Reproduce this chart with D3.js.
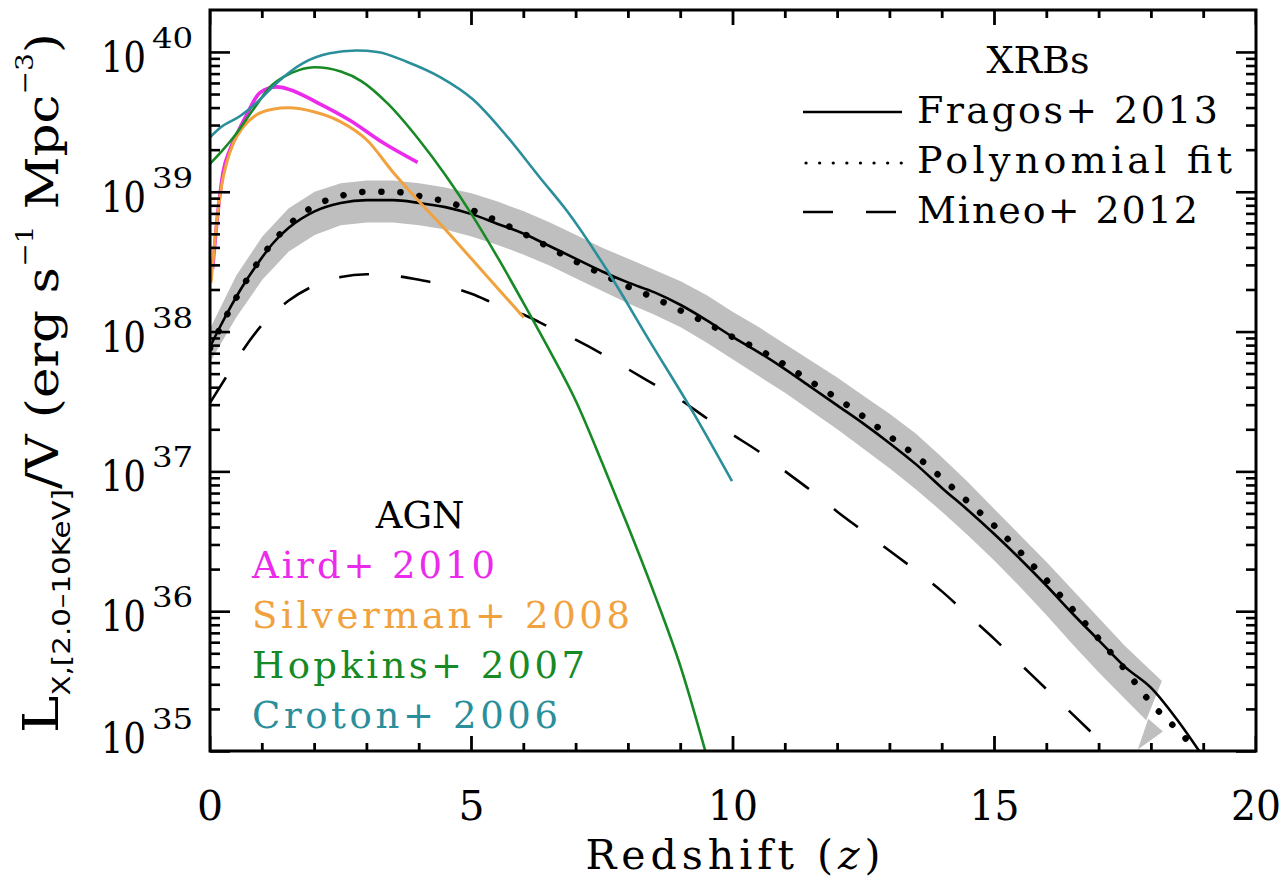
<!DOCTYPE html>
<html><head><meta charset="utf-8">
<script src="https://cdn.jsdelivr.net/npm/d3@7"></script>
<style>body{margin:0;background:#fff} svg{display:block}</style>
</head><body>
<svg id="c" width="1287" height="890"></svg>
<script>
// ---------- DATA (values are log10 of L_X/V) ----------
const xTicks = [0, 5, 10, 15, 20];
const xMinor = [0,1,2,3,4,5,6,7,8,9,10,11,12,13,14,15,16,17,18,19,20];
const yDecades = [35, 36, 37, 38, 39, 40];

const fragosZ   = [0,0.2,0.4,0.6,0.9,1.2,1.5,2,2.5,3,3.5,4,4.5,5,5.5,6,6.5,7,7.5,8,8.5,9,9.5,10,10.5,11,11.5,12,12.5,13,13.5,14,14.5,15,15.5,16,16.5,17,17.5,18,18.5,18.95];
const fragosLog = [37.89,38.04,38.18,38.31,38.48,38.63,38.74,38.86,38.92,38.94,38.94,38.92,38.89,38.84,38.77,38.70,38.61,38.52,38.43,38.35,38.28,38.19,38.08,37.96,37.85,37.73,37.60,37.47,37.34,37.20,37.05,36.88,36.72,36.55,36.37,36.18,35.98,35.79,35.60,35.45,35.22,34.98];

const polyZ   = [0,0.5,1,1.5,2,2.5,3,3.5,4,4.5,5,5.5,6,6.5,7,7.5,8,8.5,9,9.5,10,10.5,11,11.5,12,12.5,13,13.5,14,14.5,15,15.5,16,16.5,17,17.5,18,18.5,18.9];
const polyLog = [37.88,38.24,38.54,38.76,38.90,38.97,39.00,39.00,38.97,38.93,38.87,38.79,38.70,38.60,38.50,38.41,38.32,38.24,38.15,38.06,37.96,37.87,37.76,37.64,37.52,37.39,37.25,37.11,36.95,36.78,36.61,36.42,36.22,36.01,35.80,35.58,35.34,35.15,34.99];

const mineoZ   = [0,0.3,0.6,1,1.5,2,2.5,3,3.5,4,4.5,5,5.5,6,6.5,7,7.5,8,8.5,9,9.5,10,10.5,11,11.5,12,12.5,13,13.5,14,14.5,15,15.5,16,16.5,17,17.25];
const mineoLog = [37.49,37.67,37.85,38.05,38.22,38.33,38.39,38.41,38.40,38.37,38.33,38.27,38.19,38.12,38.03,37.94,37.84,37.73,37.62,37.51,37.38,37.26,37.14,37.00,36.86,36.71,36.57,36.43,36.29,36.14,35.97,35.80,35.62,35.44,35.26,35.08,34.99];

const bandUpZ   = [0,0.5,1,1.5,2,2.5,3,3.5,4,4.5,5,5.5,6,6.5,7,7.5,8,8.5,9,9.5,10,10.5,11,11.5,12,12.5,13,13.5,14,14.5,15,15.5,16,16.5,17,17.5,18.2];
const bandUpLog = [38.02,38.40,38.68,38.88,39.00,39.06,39.08,39.08,39.06,39.03,38.99,38.93,38.86,38.78,38.69,38.60,38.52,38.44,38.36,38.26,38.14,38.03,37.91,37.79,37.67,37.54,37.41,37.27,37.10,36.92,36.73,36.54,36.35,36.15,35.95,35.75,35.50];
const bandLoZ   = [0,0.5,1,1.5,2,2.5,3,3.5,4,4.5,5,5.5,6,6.5,7,7.5,8,8.5,9,9.5,10,10.5,11,11.5,12,12.5,13,13.5,14,14.5,15,15.5,16,16.5,17,17.5,17.9];
const bandLoLog = [37.78,38.10,38.37,38.57,38.69,38.76,38.78,38.78,38.76,38.73,38.68,38.62,38.55,38.47,38.38,38.29,38.20,38.12,38.03,37.92,37.80,37.68,37.56,37.43,37.30,37.16,37.02,36.87,36.71,36.54,36.36,36.17,35.97,35.76,35.56,35.37,35.22];
const bandTailZ   = [17.74, 17.94, 18.22];
const bandTailLog = [35.01, 35.23, 35.14];

const airdZ   = [0.05,0.15,0.25,0.38,0.5,0.7,0.96,1.28,1.53,2.04,2.68,3.31,3.97];
const airdLog = [38.45,38.85,39.14,39.30,39.40,39.55,39.71,39.75,39.73,39.64,39.51,39.35,39.21];

const silvZ   = [0.02,0.08,0.15,0.22,0.32,0.45,0.63,0.89,1.2,1.5,2.0,2.5,3.0,3.5,4.0,4.5,5.0,5.5,6.0];
const silvLog = [38.35,38.60,38.85,39.04,39.21,39.35,39.46,39.55,39.59,39.60,39.57,39.50,39.37,39.14,38.93,38.73,38.52,38.31,38.10];

const hopZ   = [0,0.2,0.45,0.83,1.15,1.4,1.7,2.0,2.5,2.9,3.4,4.0,4.5,5.0,5.5,6.0,6.5,7.0,7.5,8.0,8.5,9.0,9.47];
const hopLog = [39.20,39.28,39.39,39.59,39.75,39.82,39.87,39.89,39.86,39.79,39.63,39.37,39.12,38.84,38.53,38.20,37.86,37.50,37.06,36.60,36.12,35.60,35.00];

const croZ   = [0,0.2,0.57,0.9,1.28,1.78,2.29,2.8,3.2,3.76,4.4,5.03,5.67,6.31,6.83,7.59,8.41,9.24,9.98];
const croLog = [39.39,39.46,39.54,39.64,39.78,39.92,39.99,40.01,40.00,39.93,39.82,39.66,39.40,39.10,38.86,38.44,37.93,37.42,36.93];

const agnNames  = ["Aird+ 2010", "Silverman+ 2008", "Hopkins+ 2007", "Croton+ 2006"];
const xrbNames  = ["Fragos+ 2013", "Polynomial fit", "Mineo+ 2012"];

// ---------- LAYOUT ----------
const L = 210, R = 1256, T = 10, B = 751;
const cMag = "#ec2aec", cOrg = "#f1a23e", cGrn = "#178a26", cTeal = "#2b8e9b";

const svg = d3.select("#c");
const xs = d3.scaleLinear().domain([0, 20]).range([L, R]);
const ys = d3.scaleLog().domain([1e35, Math.pow(10, 40.3)]).range([B, T]);

const zip = (zs, ls) => zs.map((z, i) => [z, ls[i]]);
const line = d3.line().x(d => xs(d[0])).y(d => ys(Math.pow(10, d[1]))).curve(d3.curveMonotoneX);
const poly = d3.line().x(d => xs(d[0])).y(d => ys(Math.pow(10, d[1]))).curve(d3.curveLinearClosed);

svg.append("defs").append("clipPath").attr("id", "clip")
  .append("rect").attr("x", L).attr("y", T).attr("width", R - L).attr("height", B - T);

const g = svg.append("g").attr("clip-path", "url(#clip)");

const bandPts = zip(bandUpZ, bandUpLog).concat(zip(bandLoZ, bandLoLog).reverse());
g.append("path").attr("d", poly(bandPts)).attr("fill", "#bfbfbf").attr("stroke", "none");
g.append("path").attr("d", poly(zip(bandTailZ, bandTailLog))).attr("fill", "#bfbfbf").attr("stroke", "none");

g.append("path").attr("d", line(zip(mineoZ, mineoLog))).attr("fill", "none")
  .attr("stroke", "#000").attr("stroke-width", 2.6).attr("stroke-dasharray", "30 32");
g.append("path").attr("d", line(zip(fragosZ, fragosLog))).attr("fill", "none")
  .attr("stroke", "#000").attr("stroke-width", 2.6);
g.append("path").attr("d", line(zip(polyZ, polyLog))).attr("fill", "none")
  .attr("stroke", "#000").attr("stroke-width", 6.5).attr("stroke-linecap", "round")
  .attr("stroke-dasharray", "0.1 19");

g.append("path").attr("d", line(zip(airdZ, airdLog))).attr("fill", "none").attr("stroke", cMag).attr("stroke-width", 3.6);
g.append("path").attr("d", line(zip(silvZ, silvLog))).attr("fill", "none").attr("stroke", cOrg).attr("stroke-width", 3);
g.append("path").attr("d", line(zip(hopZ, hopLog))).attr("fill", "none").attr("stroke", cGrn).attr("stroke-width", 2.6);
g.append("path").attr("d", line(zip(croZ, croLog))).attr("fill", "none").attr("stroke", cTeal).attr("stroke-width", 2.6);

// ---------- AXES (inward ticks) ----------
const yMinor = [];
yDecades.forEach(e => { for (let m = 2; m <= 9; m++) { const v = m * Math.pow(10, e); if (v < Math.pow(10, 40.3)) yMinor.push(v); } });
const yMajor = yDecades.map(e => Math.pow(10, e));

function drawAxis(axis, tx, ty) {
  const a = svg.append("g").attr("transform", `translate(${tx},${ty})`).call(axis);
  a.select(".domain").remove();
  a.selectAll("text").remove();
  a.selectAll("line").attr("stroke", "#000").attr("stroke-width", 2.6);
}
drawAxis(d3.axisLeft(ys).tickValues(yMinor).tickSize(-10).tickFormat(""), L, 0);
drawAxis(d3.axisLeft(ys).tickValues(yMajor).tickSize(-20).tickFormat(""), L, 0);
drawAxis(d3.axisRight(ys).tickValues(yMinor).tickSize(-10).tickFormat(""), R, 0);
drawAxis(d3.axisRight(ys).tickValues(yMajor).tickSize(-20).tickFormat(""), R, 0);

// x ticks (bottom pointing up, top pointing down)
xMinor.forEach(v => {
  const len = xTicks.indexOf(v) >= 0 ? 15 : 8;
  const px = xs(v);
  const w = 1.4;
  g.append("path").attr("fill", "#000")
    .attr("d", `M${px - w},${B}L${px + w},${B}L${px + w},${B - len}L${px - w},${B - len}Z`);
  g.append("path").attr("fill", "#000")
    .attr("d", `M${px - w},${T}L${px + w},${T}L${px + w},${T + len}L${px - w},${T + len}Z`);
});

svg.append("rect").attr("x", L).attr("y", T).attr("width", R - L).attr("height", B - T)
  .attr("fill", "none").attr("stroke", "#000").attr("stroke-width", 3);

// x tick labels
svg.selectAll(".xl").data(xTicks).enter().append("text")
  .attr("x", d => xs(d)).attr("y", 820).attr("text-anchor", "middle")
  .attr("font-family", "DejaVu Serif").attr("font-size", 41).attr("fill", "#000")
  .each(function (d) { if (String(d).length > 1) d3.select(this).attr("textLength", 50).attr("lengthAdjust", "spacingAndGlyphs"); })
  .text(d => d);

// y tick labels
yDecades.forEach(e => {
  const ty = ys(Math.pow(10, e));
  const base = Math.min(ty + 20, 753);
  svg.append("text").attr("transform", `translate(101,${base}) scale(0.82,1)`)
    .attr("font-family", "DejaVu Serif").attr("font-size", 43).attr("fill", "#000").text("10");
  svg.append("text").attr("transform", `translate(152,${base - 24}) scale(1.2,1)`)
    .attr("font-family", "DejaVu Serif").attr("font-size", 27).attr("fill", "#000").text(String(e));
});

// x label
const xl = svg.append("text").attr("x", 733).attr("y", 869).attr("text-anchor", "middle")
  .attr("font-family", "DejaVu Serif").attr("font-size", 41).attr("fill", "#000")
  .attr("textLength", 295).attr("lengthAdjust", "spacing");
xl.append("tspan").text("Redshift (");
xl.append("tspan").attr("font-style", "italic").text("z");
xl.append("tspan").text(")");

// y label
const yl = svg.append("text").attr("text-anchor", "middle")
  .attr("font-family", "DejaVu Serif").attr("font-size", 44).attr("fill", "#000");
yl.append("tspan").attr("font-size", 48).text("L");
yl.append("tspan").attr("font-family", "DejaVu Sans").attr("font-size", 25).attr("dy", 12).text("X,[2.0\u201310KeV]");
yl.append("tspan").attr("dy", -12).text("/V (erg s");
yl.append("tspan").attr("font-size", 24).attr("dy", -25).text("\u22121");
yl.append("tspan").attr("dy", 25).text(" Mpc");
yl.append("tspan").attr("font-size", 24).attr("dy", -25).text("\u22123");
yl.append("tspan").attr("dy", 25).text(")");
const ylen = yl.node().getComputedTextLength();
yl.attr("transform", `translate(58,383) rotate(-90) scale(${700 / ylen},1)`);

// ---------- LEGENDS ----------
const legFont = "DejaVu Serif";
svg.append("text").attr("x", 1038).attr("y", 73).attr("text-anchor", "middle")
  .attr("font-family", legFont).attr("font-size", 38).attr("fill", "#000").text("XRBs");
const xrbBase = [123, 173, 223], xrbLen = [301, 315, 281], xrbLineY = [112, 163, 212];
xrbNames.forEach((n, i) => {
  svg.append("text").attr("x", 917).attr("y", xrbBase[i])
    .attr("font-family", legFont).attr("font-size", 38).attr("fill", "#000")
    .attr("textLength", xrbLen[i]).attr("lengthAdjust", "spacing").text(n);
});
const ls = d3.line();
svg.append("path").attr("d", ls([[803, xrbLineY[0]], [902, xrbLineY[0]]])).attr("stroke", "#000").attr("stroke-width", 2.6);
svg.append("path").attr("d", ls([[806, xrbLineY[1]], [902, xrbLineY[1]]])).attr("stroke", "#000").attr("stroke-width", 3.2)
  .attr("stroke-linecap", "round").attr("stroke-dasharray", "0.1 13.5");
svg.append("path").attr("d", ls([[803, xrbLineY[2]], [902, xrbLineY[2]]])).attr("stroke", "#000").attr("stroke-width", 2.6)
  .attr("stroke-dasharray", "30 33");

svg.append("text").attr("x", 420).attr("y", 528).attr("text-anchor", "middle")
  .attr("font-family", legFont).attr("font-size", 37).attr("fill", "#000").text("AGN");
const agnCol = [cMag, cOrg, cGrn, cTeal], agnBase = [578, 628, 678, 728], agnLen = [243, 378, 333, 306];
agnNames.forEach((n, i) => {
  svg.append("text").attr("x", 252).attr("y", agnBase[i])
    .attr("font-family", legFont).attr("font-size", 37).attr("fill", agnCol[i])
    .attr("textLength", agnLen[i]).attr("lengthAdjust", "spacing").text(n);
});
</script>
</body></html>
